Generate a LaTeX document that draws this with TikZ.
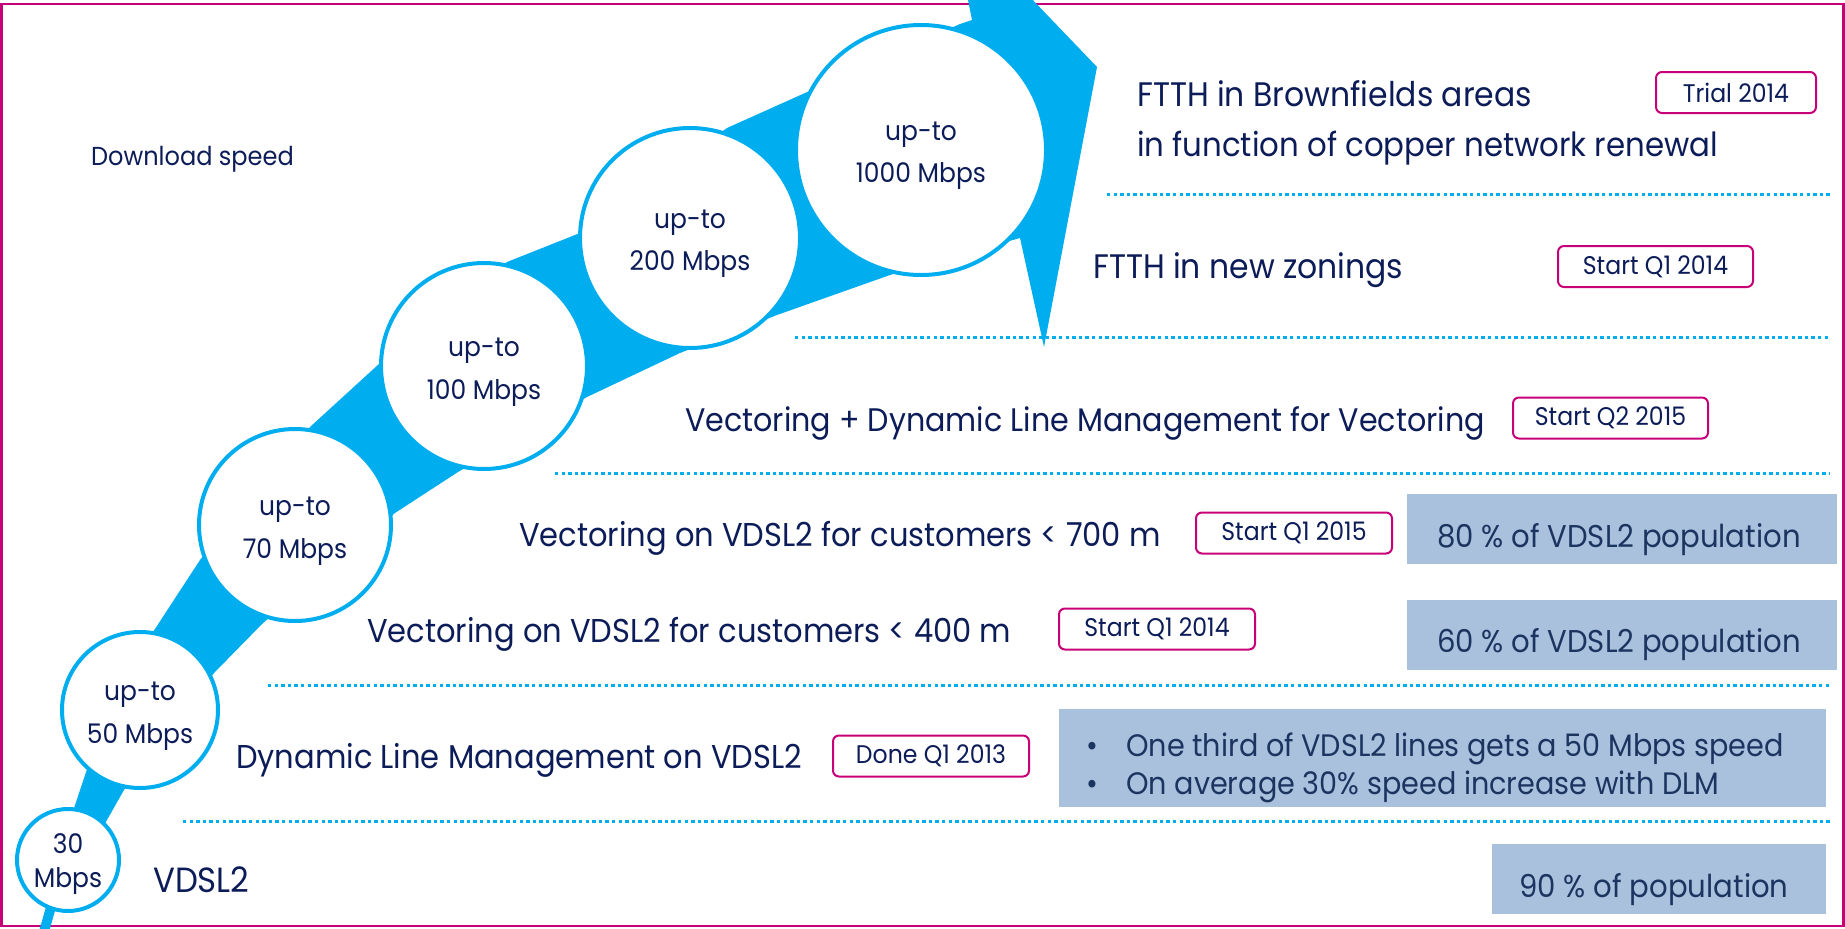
\documentclass[tikz,border=0pt]{standalone}
\usepackage{fontspec}
\setmainfont{Poppins}[FakeStretch=0.925]
\definecolor{navy}{RGB}{12,28,88}
\definecolor{boxtext}{RGB}{28,52,96}
\definecolor{cyanc}{RGB}{0,174,239}
\definecolor{magc}{RGB}{200,0,120}
\definecolor{shadeblue}{RGB}{170,193,222}
\begin{document}
\begin{tikzpicture}[x=1pt,y=-1pt,
  mainlbl/.style={anchor=base west, text=navy, inner sep=0pt, font=\fontsize{33}{40}\selectfont},
  tagbox/.style={draw=magc, line width=2pt, rounded corners=6pt, fill=white, minimum width=196pt, minimum height=41pt, text=navy, inner sep=0pt, font=\fontsize{25.5}{30}\selectfont},
  shadebox/.style={fill=shadeblue, draw=none},
  shadetxt/.style={anchor=base, text=boxtext, inner sep=0pt, font=\fontsize{31.5}{38}\selectfont},
  bullettxt/.style={anchor=base west, text=boxtext, inner sep=0pt, font=\fontsize{31}{38}\selectfont},
  dotline/.style={draw=cyanc, line width=3pt, dash pattern=on 3.3pt off 3.3pt},
  bubble/.style={circle, draw=cyanc, line width=4pt, fill=white, inner sep=0pt},
  bubtxt/.style={anchor=base, text=navy, inner sep=0pt, font=\fontsize{27}{32}\selectfont}
]
\useasboundingbox (0,0) rectangle (1845,929);
\begin{scope}
\clip (0,0) rectangle (1845,929);
% frame
\draw[magc, line width=2.6pt] (1.3,4) rectangle (1843.7,926);
% dotted separators
\coordinate (l1a) at (1107,194); \coordinate (l1b) at (1830,194);
\coordinate (l2a) at (795,337);  \coordinate (l2b) at (1830,337);
\coordinate (l3a) at (555,473);  \coordinate (l3b) at (1830,473);
\coordinate (l4a) at (268,685);  \coordinate (l4b) at (1830,685);
\coordinate (l5a) at (183,821);  \coordinate (l5b) at (1830,821);
\draw[dotline] (l1a) -- (l1b);
\draw[dotline] (l2a) -- (l2b);
\draw[dotline] (l3a) -- (l3b);
\draw[dotline] (l4a) -- (l4b);
\draw[dotline] (l5a) -- (l5b);
% shaded boxes
\fill[shadebox] (1407,494) rectangle (1837,564);
\fill[shadebox] (1407,600) rectangle (1837,670);
\fill[shadebox] (1059,709) rectangle (1826,807);
\fill[shadebox] (1492,844) rectangle (1826,914);
% ribbon arrow
\fill[cyanc] (38,935) -- (74,808) -- (86,772) -- (153,632) -- (200,560) -- (310,427)
  -- (380,363) -- (507,262) -- (580,233) -- (727,128) -- (805,93) -- (960,24)
  -- (972,20) -- (967,-5) -- (1028,-5) -- (1097,67) -- (1044,347) -- (1020,238)
  -- (890,275) -- (777,315) -- (680,353) -- (587,397) -- (458,472) -- (395,513)
  -- (263,623) -- (214,673) -- (124,790) -- (107,820) -- (55,911) -- (48,935) -- cycle;
% bubbles
\node[bubble, minimum size=102pt] (c30) at (68,860) {};
\node[bubble, minimum size=156pt] (c50) at (140,710) {};
\node[bubble, minimum size=192pt] (c70) at (295,525) {};
\node[bubble, minimum size=206pt] (c100) at (484,366) {};
\node[bubble, minimum size=220pt] (c200) at (690,238) {};
\node[bubble, minimum size=250pt] (c1000) at (921,150) {};
\node[bubtxt] (c30a) at ([yshift=7pt]c30.center) {30};
\node[bubtxt] (c30b) at ([yshift=-27pt]c30.center) {Mbps};
\node[bubtxt] (c50a) at ([yshift=10pt]c50.center) {up-to};
\node[bubtxt] (c50b) at ([yshift=-33pt]c50.center) {50 Mbps};
\node[bubtxt] (c70a) at ([yshift=10pt]c70.center) {up-to};
\node[bubtxt] (c70b) at ([yshift=-33pt]c70.center) {70 Mbps};
\node[bubtxt] (c100a) at ([yshift=10pt]c100.center) {up-to};
\node[bubtxt] (c100b) at ([yshift=-33pt]c100.center) {100 Mbps};
\node[bubtxt] (c200a) at ([yshift=10pt]c200.center) {up-to};
\node[bubtxt] (c200b) at ([yshift=-32pt]c200.center) {200 Mbps};
\node[bubtxt] (c1000a) at ([yshift=10pt]c1000.center) {up-to};
\node[bubtxt] (c1000b) at ([yshift=-32pt]c1000.center) {1000 Mbps};
% heading
\node[mainlbl, font=\fontsize{26}{30}\selectfont] (dl) at (91,165) {Download speed};
% main lines
\node[mainlbl, font=\fontsize{34}{40}\selectfont] (t1) at (1137,106) {FTTH in Brownfields areas};
\node[mainlbl, font=\fontsize{33.3}{40}\selectfont] (t2) at (1137,156) {in function of copper network renewal};
\node[mainlbl, font=\fontsize{34}{40}\selectfont] (t3) at (1093,278) {FTTH in new zonings};
\node[mainlbl, font=\fontsize{32.6}{40}\selectfont] (t4) at (685,431) {Vectoring + Dynamic Line Management for Vectoring};
\node[mainlbl] (t5) at (519,546) {Vectoring on VDSL2 for customers < 700 m};
\node[mainlbl] (t6) at (367,642) {Vectoring on VDSL2 for customers < 400 m};
\node[mainlbl] (t7) at (236,768) {Dynamic Line Management on VDSL2};
\node[mainlbl, font=\fontsize{35}{40}\selectfont] (t8) at (153,892) {VDSL2};
% tags
\node[tagbox, minimum width=160pt] (g1) at (1736,92.5) {Trial 2014};
\node[tagbox, minimum width=195pt] (g2) at (1655.5,266.5) {Start Q1 2014};
\node[tagbox, minimum width=195pt] (g3) at (1610.5,418) {Start Q2 2015};
\node[tagbox] (g4) at (1294,533) {Start Q1 2015};
\node[tagbox] (g5) at (1157,629) {Start Q1 2014};
\node[tagbox] (g6) at (931,756) {Done Q1 2013};
% shaded box texts
\node[shadetxt] (s1) at (1619,547) {80 \% of VDSL2 population};
\node[shadetxt] (s2) at (1619,652) {60 \% of VDSL2 population};
\node[shadetxt] (s3) at (1654,897) {90 \% of population};
\node[bullettxt] (b1) at (1086,756) {\makebox[40pt][l]{•}One third of VDSL2 lines gets a 50 Mbps speed};
\node[bullettxt] (b2) at (1086,794) {\makebox[40pt][l]{•}On average 30\% speed increase with DLM};
\end{scope}
\end{tikzpicture}
\end{document}
